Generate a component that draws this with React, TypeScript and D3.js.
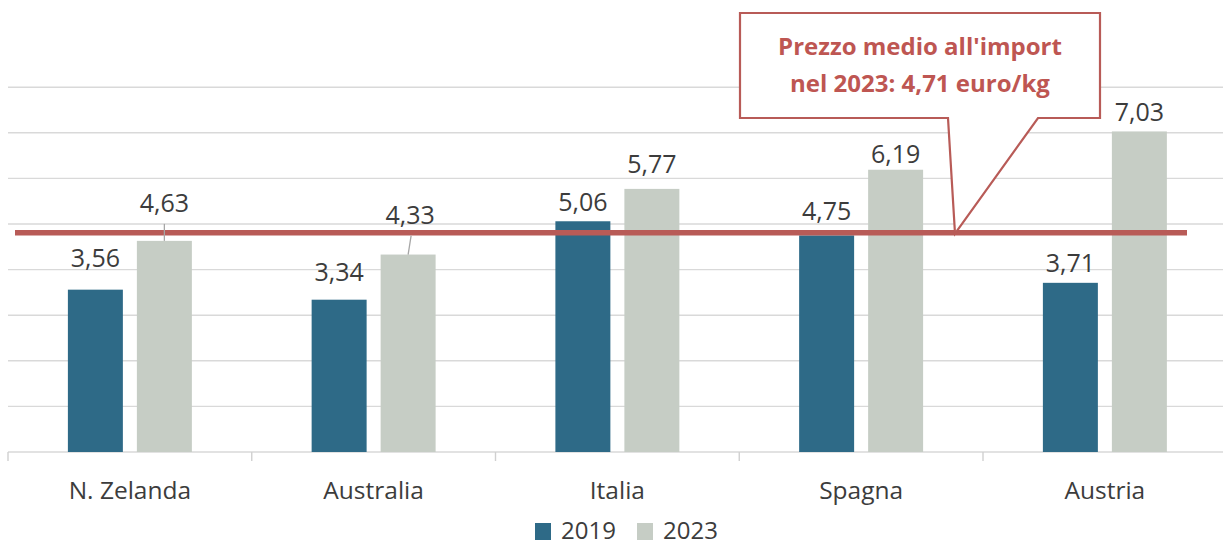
import * as d3 from 'd3';
import React from 'react';

// prezzo medio all'import, euro/kg
const categories = ['N. Zelanda', 'Australia', 'Italia', 'Spagna', 'Austria'];
const series = ['2019', '2023'];
const values2019 = [3.56, 3.34, 5.06, 4.75, 3.71];
const values2023 = [4.63, 4.33, 5.77, 6.19, 7.03];
const yTicks = [0, 1, 2, 3, 4, 5, 6, 7, 8];
// where the reference line sits in the picture (the callout says 4,71)
const avgLineAt = 4.81;
const calloutLines = ["Prezzo medio all'import", 'nel 2023: 4,71 euro/kg'];
// extra lift of some value labels, as placed by hand in the original
const lift2019 = [13, 9, 0, 5, 1];
const lift2023 = [19, 21, 6, -3, 0];

const colors = { '2019': '#2E6A87', '2023': '#C6CDC5' };
const red = '#B85B57';
const textColor = '#3C3C3C';
const font = '"Open Sans", "DejaVu Sans", sans-serif';

export default function App() {
  const width = 1223, height = 546;
  const baseY = 452;

  const x = d3.scaleBand().domain(categories).range([8, 1226.75]);
  const xi = d3.scaleBand().domain(series).range([0, x.bandwidth()])
    .paddingInner(0.203).paddingOuter(0.868);
  const y = d3.scaleLinear().domain([0, 8]).range([baseY, baseY - 8 * 45.6]);

  const data = categories.map((c, i) => ({
    c,
    bars: [
      { s: '2019', v: values2019[i], lift: lift2019[i] },
      { s: '2023', v: values2023[i], lift: lift2023[i] },
    ],
  }));

  const fmt = (v: number) => v.toFixed(2).replace('.', ',');
  const lineY = y(avgLineAt);

  // callout box
  const bx0 = 740, bx1 = 1100, by0 = 13, by1 = 118;
  const tipX = 955;
  const calloutPath = [
    [bx0, by0], [bx1, by0], [bx1, by1], [1038, by1], [tipX, lineY + 1], [948, by1], [bx0, by1],
  ].map((p, i) => (i ? 'L' : 'M') + p[0] + ',' + p[1]).join('') + 'Z';

  return (
    <svg width={width} height={height} style={{ position: 'absolute', left: 0, top: 0, background: '#fff' }}
      fontFamily={font}>
      {yTicks.map(t => (
        <line key={t} x1={8} x2={width} y1={y(t)} y2={y(t)} stroke="#D9D9D9" strokeWidth={1.4} />
      ))}
      {categories.map(c => (
        <line key={c} x1={x(c)} x2={x(c)} y1={baseY} y2={baseY + 9} stroke="#D0D0D0" strokeWidth={1.4} />
      ))}
      {data.map(d => d.bars.map(b => (
        <rect key={d.c + b.s} x={(x(d.c) as number) + (xi(b.s) as number)} y={y(b.v)}
          width={xi.bandwidth()} height={baseY - y(b.v)} fill={colors[b.s as '2019' | '2023']} />
      )))}
      <line x1={15} x2={1187} y1={lineY} y2={lineY} stroke={red} strokeWidth={5.5} />
      {data.map(d => d.bars.map(b => {
        const cx = (x(d.c) as number) + (xi(b.s) as number) + xi.bandwidth() / 2;
        const top = y(b.v);
        const base = top - 10 - b.lift;
        const leader = b.lift > 15;
        return (
          <g key={'l' + d.c + b.s}>
            {leader && (
              <line x1={cx + (b.lift > 20 ? 3 : 0)} x2={cx} y1={base + 12} y2={top} stroke="#A6A6A6" strokeWidth={1.3} />
            )}
            <text x={cx + (b.lift > 20 ? 2 : 0)} y={base} textAnchor="middle" fontSize={25} fill={textColor}>
              {fmt(b.v)}
            </text>
          </g>
        );
      }))}
      {categories.map(c => (
        <text key={'c' + c} x={(x(c) as number) + x.bandwidth() / 2} y={499} textAnchor="middle"
          fontSize={24.5} fill={textColor}>{c}</text>
      ))}
      <path d={calloutPath} fill="#fff" stroke={red} strokeWidth={2.2} />
      {calloutLines.map((l, i) => (
        <text key={l} x={(bx0 + bx1) / 2} y={55 + i * 36.7} textAnchor="middle" fontSize={24}
          fontWeight="bold" fill="#BE5652">{l}</text>
      ))}
      {series.map((s, i) => (
        <g key={s} transform={`translate(${535 + i * 102},0)`}>
          <rect x={0} y={523} width={16} height={17} fill={colors[s as '2019' | '2023']} />
          <text x={26} y={539} fontSize={24} fill={textColor}>{s}</text>
        </g>
      ))}
    </svg>
  );
}
